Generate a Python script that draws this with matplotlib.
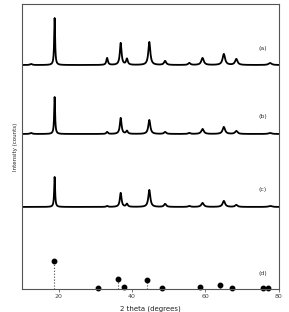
import numpy as np
import matplotlib
matplotlib.use('Agg')
import matplotlib.pyplot as plt

# peak positions (2 theta) and heights, per pattern
peak_pos = [12.5, 18.9, 33.2, 36.9, 38.6, 44.7, 49.0, 55.6, 59.2, 65.0, 68.4, 77.6]
peak_width = [0.7, 0.3, 0.5, 0.55, 0.55, 0.65, 0.7, 0.7, 0.8, 0.8, 0.8, 1.0]
heights_a = [1, 47, 7, 22, 6, 23, 4, 2, 7, 11, 6, 2]
heights_b = [1, 37, 2, 16, 3, 14, 2, 1, 5, 7, 3, 1]
heights_c = [0, 30, 1, 14, 3, 17, 3, 1, 4, 6, 2, 1]
baselines = [224, 155, 82]
labels = ["(a)", "(b)", "(c)"]

# reference pattern (d): stick positions and heights
stick_pos = [18.7, 30.8, 36.2, 37.9, 44.1, 48.2, 58.4, 63.9, 67.3, 75.7, 76.9]
stick_h = [28, 0.5, 10, 2, 9, 1, 2, 4, 1, 0.5, 0.5]


def profile(x, heights):
    y = np.zeros_like(x)
    for p, w, h in zip(peak_pos, peak_width, heights):
        y += h / (1 + ((x - p) / (w / 2)) ** 2)
    return y


x = np.linspace(10, 80, 1401)

fig = plt.figure(figsize=(2.89, 3.12), dpi=100)
ax = fig.add_axes([0.076, 0.074, 0.889, 0.913])

for base, hs, lab in zip(baselines, [heights_a, heights_b, heights_c], labels):
    ax.plot(x, base + profile(x, hs), color='black', lw=1.3)
    ax.text(75.7, base + 17, lab, fontsize=4.5, ha='center', va='center',
            color='#333333')

ax.vlines(stick_pos, 0, stick_h, colors='#444444', linestyles=':', lw=0.8)
ax.plot(stick_pos, stick_h, 'o', color='black', ms=3.2, clip_on=False)
ax.text(75.7, 15, "(d)", fontsize=4.5, ha='center', va='center', color='#333333')

ax.set_xlim(10, 80)
ax.set_ylim(0, 285)
ax.set_xticks([20, 40, 60, 80])
ax.set_yticks([])
ax.tick_params(axis='x', labelsize=4.5, length=2, width=0.5, pad=2,
               colors='#444444')
for s in ax.spines.values():
    s.set_linewidth(0.8)
    s.set_color('#555555')

ax.set_xlabel("2 theta (degrees)", fontsize=5, labelpad=4, color='#222222')
ax.set_ylabel("Intensity (counts)", fontsize=4, labelpad=3, color='#222222')

plt.savefig('out.png', dpi=100)
plt.close()
